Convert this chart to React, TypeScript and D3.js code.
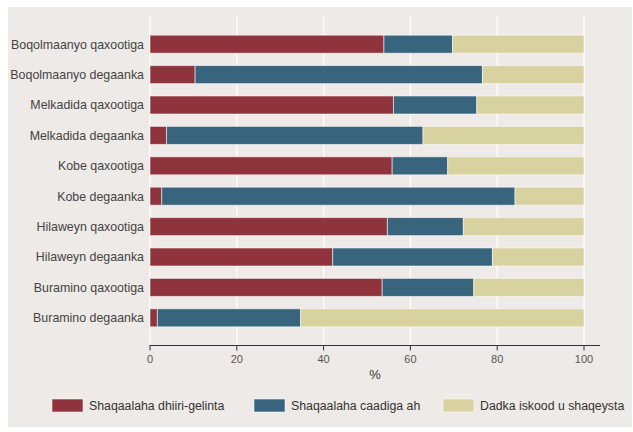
import React from "react";
import * as d3 from "d3";

const categories = [
  "Boqolmaanyo qaxootiga",
  "Boqolmaanyo degaanka",
  "Melkadida qaxootiga",
  "Melkadida degaanka",
  "Kobe qaxootiga",
  "Kobe degaanka",
  "Hilaweyn qaxootiga",
  "Hilaweyn degaanka",
  "Buramino qaxootiga",
  "Buramino degaanka",
];
const seriesNames = [
  "Shaqaalaha dhiiri-gelinta",
  "Shaqaalaha caadiga ah",
  "Dadka iskood u shaqeysta",
];
const dhiiri = [53.9, 10.4, 56.1, 3.8, 55.8, 2.7, 54.7, 42.1, 53.5, 1.7];
const caadiga = [15.8, 66.2, 19.2, 59.1, 12.8, 81.4, 17.5, 36.8, 21.1, 33.0];
const iskood = dhiiri.map((d, i) => +(100 - d - caadiga[i]).toFixed(1));
const xTicks = [0, 20, 40, 60, 80, 100];
const colors = ["#8f343c", "#38647e", "#d7d29f"];

const W = 633;
const H = 432;
const FONT = "'Liberation Sans', Arial, Helvetica, sans-serif";

export default function App() {
  const x = d3.scaleLinear().domain([0, 100]).range([150, 584]);
  const y = d3.scaleBand().domain(categories).range([29, 333]).paddingInner(0.4).paddingOuter(0.2);
  const bw = 18;
  const rows = categories.map((c, i) => ({ c, vals: [dhiiri[i], caadiga[i], iskood[i]] }));
  const legendX = [52, 254, 443];

  return (
    <svg width={W} height={H} style={{ position: "absolute", left: 0, top: 0 }} fontFamily={FONT}>
      <rect x={0} y={0} width={W} height={H} fill="#ffffff" />
      <rect x={8} y={7} width={624} height={420} fill="#eeeae7" />
      {xTicks.map((t) => (
        <line key={t} x1={x(t)} x2={x(t)} y1={16} y2={345} stroke="#ffffff" strokeWidth={1.2} />
      ))}
      {rows.map((r) => {
        const cy = (y(r.c) as number) + y.bandwidth() / 2;
        let acc = 0;
        return (
          <g key={r.c}>
            {r.vals.map((v, k) => {
              const x0 = x(acc);
              acc += v;
              const x1 = x(acc);
              return (
                <rect
                  key={k}
                  x={x0}
                  y={cy - bw / 2}
                  width={Math.max(0, x1 - x0)}
                  height={bw}
                  fill={colors[k]}
                  stroke="#ffffff"
                  strokeOpacity={0.55}
                  strokeWidth={1}
                />
              );
            })}
            <text x={144} y={cy} dy="0.35em" textAnchor="end" fontSize={12.4} fill="#444">
              {r.c}
            </text>
          </g>
        );
      })}
      <line x1={150} x2={600} y1={345.5} y2={345.5} stroke="#333" strokeWidth={1} />
      {xTicks.map((t) => (
        <g key={t}>
          <line x1={x(t)} x2={x(t)} y1={345} y2={350.5} stroke="#333" strokeWidth={1} />
          <text x={x(t)} y={359} dy="0.35em" textAnchor="middle" fontSize={11} fill="#555">
            {t}
          </text>
        </g>
      ))}
      <text x={375} y={374.5} dy="0.35em" textAnchor="middle" fontSize={13} fill="#333">
        %
      </text>
      {seriesNames.map((s, k) => (
        <g key={s}>
          <rect x={legendX[k]} y={399} width={31} height={13} fill={colors[k]} stroke="#ffffff" strokeOpacity={0.55} />
          <text x={legendX[k] + 37} y={405.7} dy="0.35em" fontSize={12.3} fill="#333">
            {s}
          </text>
        </g>
      ))}
    </svg>
  );
}
